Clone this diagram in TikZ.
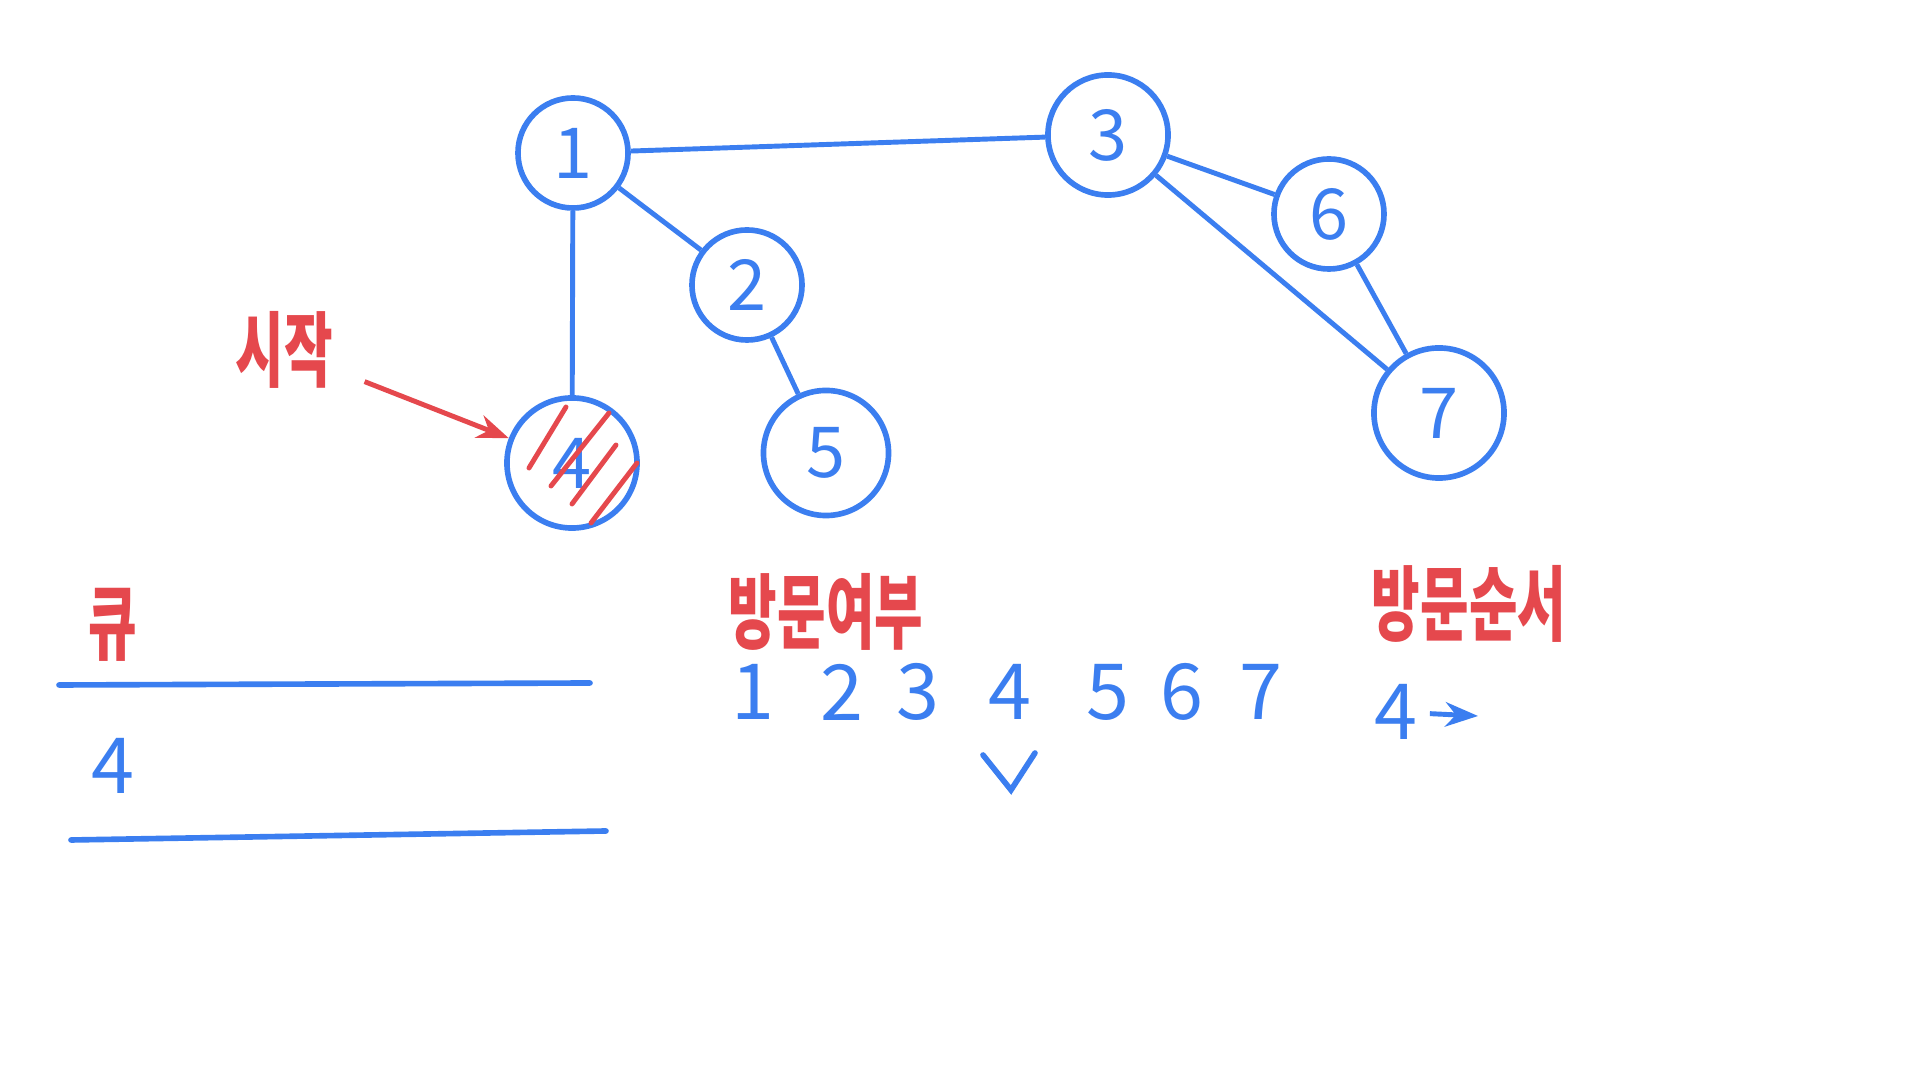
\documentclass[tikz,border=0pt]{standalone}
\usepackage{fontspec}
\setmainfont{Noto Sans CJK KR}
\usetikzlibrary{arrows.meta}
\definecolor{penblue}{HTML}{3B7EF0}
\definecolor{penred}{HTML}{E5484D}
\newcommand{\tallword}[1]{\scalebox{1}[1.55]{#1}}
\tikzset{
  vertex/.style={
    circle,
    draw=penblue,
    line width=1.6pt,
    minimum size=1.2cm,
    inner sep=0pt,
    text=penblue,
    font=\fontsize{20}{20}\selectfont
  },
  edge/.style={
    draw=penblue,
    line width=1.4pt
  },
  hatch/.style={
    draw=penred,
    line width=1.4pt,
    line cap=round
  },
  red label/.style={
    text=penred,
    font=\fontsize{15}{15}\selectfont\bfseries
  },
  blue label/.style={
    text=penblue,
    font=\fontsize{22}{22}\selectfont
  },
  pen line/.style={
    draw=penblue,
    line width=1.6pt,
    line cap=round
  }
}

\begin{document}
\begin{tikzpicture}[x=0.01cm, y=-0.01cm, >=Stealth]
    % 1920x1080 픽셀 좌표
    \useasboundingbox[fill=white] (0,0) rectangle (1920,1080);

    % 정점
    \node[vertex, minimum size=1.1cm] (n1) at (573,153) {1};
    \node[vertex, minimum size=1.1cm] (n2) at (747,285) {2};
    \node[vertex] (n3) at (1108,135) {3};
    \node[vertex, minimum size=1.3cm] (n4) at (572,463) {4};
    \node[vertex, minimum size=1.25cm] (n5) at (826,453) {5};
    \node[vertex, minimum size=1.1cm] (n6) at (1329,214) {6};
    \node[vertex, minimum size=1.3cm] (n7) at (1439,413) {7};

    % 간선
    \draw[edge] (n1) -- (n3);
    \draw[edge] (n1) -- (n2);
    \draw[edge] (n1) -- (n4);
    \draw[edge] (n2) -- (n5);
    \draw[edge] (n3) -- (n6);
    \draw[edge] (n3) -- (n7);
    \draw[edge] (n6) -- (n7);

    % 시작 정점 빗금
    \foreach \sx/\sy/\ex/\ey in {-43/5/-6/-56, -21/23/37/-50, 0/41/44/-18, 19/60/65/0} {
      \draw[hatch] ([shift={(\sx,\sy)}]n4.center) -- ([shift={(\ex,\ey)}]n4.center);
    }

    % 시작
    \node[red label] (start) at (284,350) {\tallword{시작}};
    \draw[-{Stealth[length=9pt]}, draw=penred, line width=1.4pt, shorten <=6pt] (start) -- (n4);

    % 큐
    \node[red label] (queue) at (113,625) {\tallword{큐}};
    \draw[pen line] (59,685) -- (590,683);
    \node[blue label] (q4) at (113,766) {4};
    \draw[pen line] (71,840) -- (606,831);

    % 방문여부
    \node[red label] (visited) at (826,612) {\tallword{방문여부}};
    \foreach \i/\x in {1/753, 2/842, 3/918, 4/1010, 5/1108, 6/1182, 7/1261} {
      \node[blue label] (v\i) at (\x,692) {\i};
    }
    \draw[pen line] (983,755) -- (1011,790) -- (1035,753);

    % 방문순서
    \node[red label] (order) at (1469,604) {\tallword{방문순서}};
    \node[blue label] (o4) at (1396,712) {4};
    \coordinate (onext) at (1478,716);
    \draw[->, draw=penblue, line width=1.4pt] (o4) -- (onext);

\end{tikzpicture}
\end{document}
